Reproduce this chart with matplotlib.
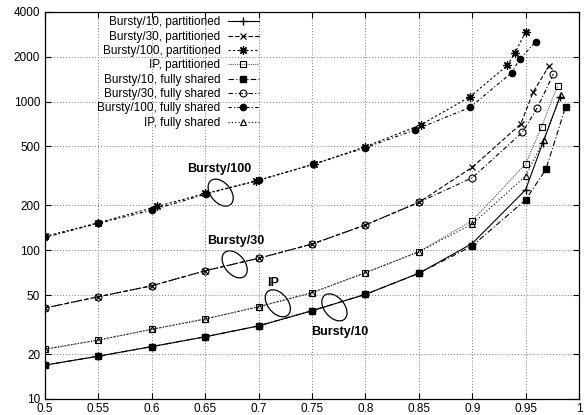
import numpy as np
import matplotlib.pyplot as plt
from matplotlib.patches import Ellipse
from matplotlib.transforms import ScaledTranslation

plt.rcParams['font.family'] = ['Liberation Sans', 'DejaVu Sans']

"###################### data read off the figure ######################"
x_b10_part = [0.5, 0.55, 0.6, 0.65, 0.7, 0.75, 0.8, 0.85, 0.9, 0.95, 0.966, 0.982]
y_b10_part = [16.9, 19.4, 22.5, 26.2, 31.0, 39.2, 50.5, 70, 111, 255, 525, 1070]

x_b30_part = [0.5, 0.55, 0.6, 0.65, 0.7, 0.75, 0.8, 0.85, 0.9, 0.9455, 0.957, 0.972]
y_b30_part = [40.9, 48.7, 57.7, 72.8, 88.3, 110, 148, 210, 361, 706, 1154, 1742]

x_b100_part = [0.5, 0.55, 0.605, 0.65, 0.698, 0.752, 0.8, 0.852, 0.898, 0.933, 0.94, 0.95]
y_b100_part = [124, 153, 197, 241, 292, 380, 497, 698, 1077, 1753, 2130, 2920]

x_ip_part = [0.5, 0.55, 0.6, 0.65, 0.7, 0.75, 0.8, 0.85, 0.9, 0.95, 0.965, 0.98]
y_ip_part = [21.6, 24.9, 29.4, 34.5, 41.7, 51.8, 70.6, 97.7, 158, 380, 678, 1278]

x_b10_fs = [0.5, 0.55, 0.6, 0.65, 0.7, 0.75, 0.8, 0.85, 0.9, 0.95, 0.969, 0.9875]
y_b10_fs = [16.9, 19.4, 22.5, 26.2, 31.0, 39.2, 50.5, 70, 107, 218, 350, 923]

x_b30_fs = [0.5, 0.55, 0.6, 0.65, 0.7, 0.75, 0.8, 0.85, 0.9, 0.947, 0.961, 0.976]
y_b30_fs = [40.9, 48.7, 57.7, 72.8, 88.3, 110, 148, 210, 307, 621, 909, 1532]

x_b100_fs = [0.5, 0.55, 0.6, 0.651, 0.7, 0.751, 0.8, 0.846, 0.898, 0.937, 0.9446, 0.9595]
y_b100_fs = [122, 152, 186, 239, 296, 378, 489, 643, 914, 1563, 1932, 2524]

x_ip_fs = [0.5, 0.55, 0.6, 0.65, 0.7, 0.75, 0.8, 0.85, 0.9, 0.95, 0.967, 0.983]
y_ip_fs = [21.6, 24.9, 29.4, 34.5, 41.7, 51.8, 70.6, 97.7, 150, 315, 550, 1110]

x_ticks = [0.5, 0.55, 0.6, 0.65, 0.7, 0.75, 0.8, 0.85, 0.9, 0.95, 1.0]
x_ticklabels = ['0.5', '0.55', '0.6', '0.65', '0.7', '0.75', '0.8', '0.85', '0.9', '0.95', '1']
y_ticks = [10, 20, 50, 100, 200, 500, 1000, 2000, 4000]

# group labels with ellipses: (text, text x, text y, ellipse x, ellipse y)
groups = [('Bursty/100', 0.6636, 350, 0.6645, 244),
          ('Bursty/30', 0.6785, 116, 0.6776, 80.4),
          ('IP', 0.714, 60, 0.718, 44),
          ('Bursty/10', 0.7757, 28.3, 0.771, 41.3)]

"###################### plot ######################"
fig = plt.figure(figsize=(5.88, 4.15), dpi=100)
ax = fig.add_axes([0.0765, 0.0386, 0.9082, 0.9325])

lw = 0.8
ax.plot(x_b10_part, y_b10_part, color='k', lw=lw, ls='-', marker='+', ms=6, mew=1.0,
        label='Bursty/10, partitioned')
ax.plot(x_b30_part, y_b30_part, color='k', lw=lw, ls=(0, (4, 2)), marker='x', ms=5, mew=0.9,
        label='Bursty/30, partitioned')
ax.plot(x_b100_part, y_b100_part, color='k', lw=lw, ls=(0, (2, 2)), marker=(8, 2, 0), ms=6, mew=0.9,
        label='Bursty/100, partitioned')
ax.plot(x_ip_part, y_ip_part, color='#555555', lw=lw, ls=(0, (1, 1)), marker='s', ms=5, mew=0.8,
        mfc='none', mec='k', label='IP, partitioned')
ax.plot(x_b10_fs, y_b10_fs, color='k', lw=lw, ls=(0, (5, 2, 1, 2)), marker='s', ms=5,
        label='Bursty/10, fully shared')
ax.plot(x_b30_fs, y_b30_fs, color='k', lw=lw, ls=(0, (4, 2, 1, 2)), marker='o', ms=5, mew=0.8,
        mfc='none', label='Bursty/30, fully shared')
ax.plot(x_b100_fs, y_b100_fs, color='k', lw=lw, ls=(0, (3, 2, 1, 2)), marker='o', ms=4.5,
        label='Bursty/100, fully shared')
ax.plot(x_ip_fs, y_ip_fs, color='k', lw=lw, ls=(0, (1, 2)), marker='^', ms=5, mew=0.8,
        mfc='none', label='IP, fully shared')

ax.set_yscale('log')
ax.set_xlim(0.5, 1.0)
ax.set_ylim(10, 4000)
ax.set_xticks(x_ticks)
ax.set_xticklabels(x_ticklabels)
ax.set_yticks(y_ticks)
ax.set_yticklabels([str(v) for v in y_ticks])
ax.yaxis.set_minor_locator(plt.NullLocator())
ax.tick_params(axis='both', which='major', labelsize=8.5, direction='in',
               top=True, right=True, length=4, width=0.8)
ax.tick_params(axis='x', pad=3)
ax.grid(True, color='#777777', linestyle=(0, (1, 2)), linewidth=0.7)
for s in ax.spines.values():
    s.set_linewidth(0.9)

for name, tx, ty, ex, ey in groups:
    ax.text(tx, ty, name, fontsize=9, fontweight='bold', ha='center', va='center')
    tr = fig.dpi_scale_trans + ScaledTranslation(ex, ey, ax.transData)
    ax.add_patch(Ellipse((0, 0), 0.31, 0.20, angle=-50, transform=tr,
                         fill=False, ec='k', lw=0.9))

leg = ax.legend(loc='upper right', bbox_to_anchor=(0.406, 0.995), frameon=False,
                markerfirst=False, numpoints=1, fontsize=8.5, handlelength=2.7,
                handletextpad=0.6, labelspacing=0.2, borderaxespad=0, borderpad=0.2)
for col in leg._legend_box._children[-1]._children:
    col.align = 'right'

fig.savefig('out.png', dpi=100)
